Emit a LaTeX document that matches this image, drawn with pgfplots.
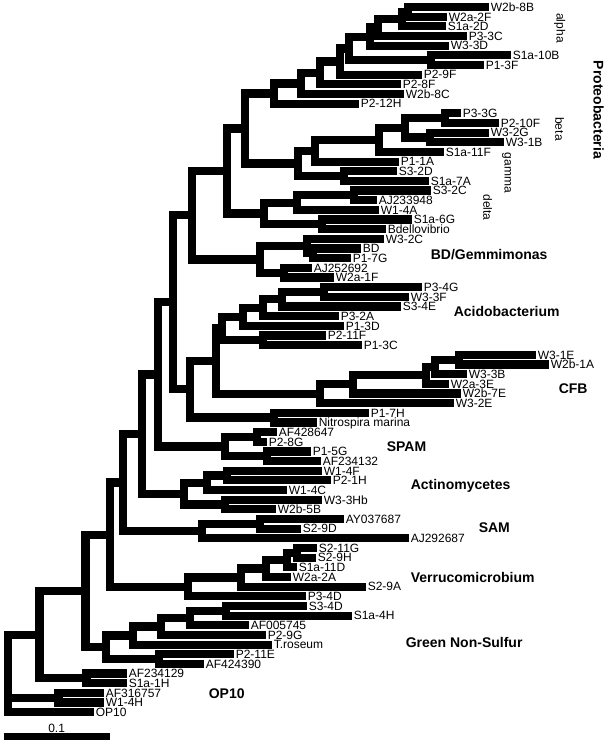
\documentclass[border=0pt]{standalone}
\usepackage{pgfplots}
\pgfplotsset{compat=1.18}
\usepackage{fontspec}
\setmainfont{Liberation Sans}
\tikzset{br/.style={black, line width=8.2pt, line join=miter, line cap=butt, mark=none},
  lf/.style={anchor=base west, inner sep=0pt, yshift=-4.3pt, font=\fontsize{12}{12}\selectfont},
  cl/.style={anchor=base west, inner sep=0pt, font=\fontsize{14}{14}\selectfont\bfseries},
  gk/.style={anchor=center, inner sep=0pt, rotate=-90, font=\fontsize{12}{12}\selectfont}}
\newcommand{\lb}[3]{\node[lf] at (axis cs:#1,#2) {#3};}
\begin{document}
\begin{tikzpicture}
\begin{axis}[width=603pt, height=740pt, scale only axis, xmin=0, xmax=603, ymin=0, ymax=740,
  y dir=reverse, axis lines=none, clip=false]
\path (axis cs:0,0) rectangle (axis cs:603,740);
% alpha
\addplot[br] coordinates {(485,7.0) (404,7.0) (404,16.7) (443,16.7)};
\addplot[br] coordinates {(404,11.85) (398,11.85) (398,26.3) (442,26.3)};
\addplot[br] coordinates {(398,19.1) (374,19.1) (374,36.0) (463,36.0)};
\addplot[br] coordinates {(374,27.55) (366,27.55) (366,45.6) (445,45.6)};
\addplot[br] coordinates {(507,55.3) (427,55.3) (427,65.0) (480,65.0)};
\addplot[br] coordinates {(366,36.6) (345,36.6) (345,60.15) (427,60.15)};
\addplot[br] coordinates {(345,48.4) (336,48.4) (336,74.6) (418,74.6)};
\addplot[br] coordinates {(336,61.5) (316,61.5) (316,84.3) (397,84.3)};
\addplot[br] coordinates {(316,72.9) (297,72.9) (297,93.9) (400,93.9)};
\addplot[br] coordinates {(297,83.4) (270,83.4) (270,103.6) (355,103.6)};
% beta gamma
\addplot[br] coordinates {(457,113.3) (441,113.3) (441,122.9) (495,122.9)};
\addplot[br] coordinates {(485,132.6) (426,132.6) (426,142.2) (500,142.2)};
\addplot[br] coordinates {(441,118.1) (401,118.1) (401,137.4) (426,137.4)};
\addplot[br] coordinates {(401,127.75) (375,127.75) (375,151.9) (440,151.9)};
\addplot[br] coordinates {(375,139.8) (311,139.8) (311,161.6) (395,161.6)};
\addplot[br] coordinates {(393,171.2) (340,171.2) (340,180.9) (425,180.9)};
\addplot[br] coordinates {(311,150.7) (294,150.7) (294,176.05) (340,176.05)};
% delta
\addplot[br] coordinates {(427,190.5) (350,190.5) (350,200.2) (373,200.2)};
\addplot[br] coordinates {(350,195.35) (293,195.35) (293,209.9) (375,209.9)};
\addplot[br] coordinates {(408,219.5) (318,219.5) (318,229.2) (382,229.2)};
\addplot[br] coordinates {(293,202.6) (260,202.6) (260,224.35) (318,224.35)};
\addplot[br] coordinates {(270,93.5) (241,93.5) (241,163.4) (294,163.4)};
\addplot[br] coordinates {(241,128.45) (223,128.45) (223,213.5) (260,213.5)};
% BD
\addplot[br] coordinates {(357,248.5) (309,248.5) (309,258.2) (347,258.2)};
\addplot[br] coordinates {(380,238.8) (303,238.8) (303,253.35) (309,253.35)};
\addplot[br] coordinates {(308,267.8) (280,267.8) (280,277.5) (330,277.5)};
\addplot[br] coordinates {(303,246.1) (256,246.1) (256,272.65) (280,272.65)};
\addplot[br] coordinates {(223,170.95) (188,170.95) (188,259.4) (256,259.4)};
% Acido
\addplot[br] coordinates {(418,287.1) (320,287.1) (320,296.8) (405,296.8)};
\addplot[br] coordinates {(320,291.95) (278,291.95) (278,306.5) (397,306.5)};
\addplot[br] coordinates {(278,299.2) (259,299.2) (259,316.1) (335,316.1)};
\addplot[br] coordinates {(259,307.65) (239,307.65) (239,325.8) (340,325.8)};
\addplot[br] coordinates {(322,335.4) (259,335.4) (259,345.1) (358,345.1)};
\addplot[br] coordinates {(239,316.7) (218,316.7) (218,340.25) (259,340.25)};
% CFB
\addplot[br] coordinates {(532,354.8) (455,354.8) (455,364.4) (545,364.4)};
\addplot[br] coordinates {(455,359.6) (431,359.6) (431,374.1) (463,374.1)};
\addplot[br] coordinates {(431,366.85) (422,366.85) (422,383.7) (445,383.7)};
\addplot[br] coordinates {(422,375.3) (349,375.3) (349,393.4) (457,393.4)};
\addplot[br] coordinates {(349,384.35) (316,384.35) (316,403.1) (450,403.1)};
% Nitrospira and joins
\addplot[br] coordinates {(365,412.7) (270,412.7) (270,422.4) (313,422.4)};
\addplot[br] coordinates {(218,328.5) (212,328.5) (212,393.7) (316,393.7)};
\addplot[br] coordinates {(212,361.1) (186,361.1) (186,417.55) (270,417.55)};
\addplot[br] coordinates {(188,215.2) (169,215.2) (169,389.3) (186,389.3)};
% SPAM
\addplot[br] coordinates {(273,432.0) (253,432.0) (253,441.7) (263,441.7)};
\addplot[br] coordinates {(307,451.4) (263,451.4) (263,461.0) (317,461.0)};
\addplot[br] coordinates {(253,436.85) (221,436.85) (221,456.2) (263,456.2)};
\addplot[br] coordinates {(169,302.25) (154,302.25) (154,446.5) (221,446.5)};
% Actino
\addplot[br] coordinates {(318,470.7) (223,470.7) (223,480.3) (327,480.3)};
\addplot[br] coordinates {(223,475.5) (203,475.5) (203,490.0) (283,490.0)};
\addplot[br] coordinates {(318,499.7) (221,499.7) (221,509.3) (272,509.3)};
\addplot[br] coordinates {(203,482.75) (180,482.75) (180,504.5) (221,504.5)};
\addplot[br] coordinates {(154,374.4) (138,374.4) (138,493.6) (180,493.6)};
% SAM
\addplot[br] coordinates {(340,519.0) (256,519.0) (256,528.6) (297,528.6)};
\addplot[br] coordinates {(256,523.8) (198,523.8) (198,538.3) (405,538.3)};
\addplot[br] coordinates {(138,434.0) (119,434.0) (119,531.05) (198,531.05)};
% Verruco
\addplot[br] coordinates {(313,548.0) (293,548.0) (293,557.6) (312,557.6)};
\addplot[br] coordinates {(293,552.8) (283,552.8) (283,567.3) (293,567.3)};
\addplot[br] coordinates {(283,560.05) (262,560.05) (262,576.9) (287,576.9)};
\addplot[br] coordinates {(262,568.5) (237,568.5) (237,586.6) (362,586.6)};
\addplot[br] coordinates {(237,577.55) (184,577.55) (184,596.3) (302,596.3)};
\addplot[br] coordinates {(119,482.5) (106,482.5) (106,586.9) (184,586.9)};
% GNS
\addplot[br] coordinates {(303,605.9) (222,605.9) (222,615.6) (348,615.6)};
\addplot[br] coordinates {(222,610.75) (186,610.75) (186,625.2) (245,625.2)};
\addplot[br] coordinates {(186,617.95) (157,617.95) (157,634.9) (262,634.9)};
\addplot[br] coordinates {(157,626.4) (129,626.4) (129,644.6) (268,644.6)};
\addplot[br] coordinates {(230,654.2) (155,654.2) (155,663.9) (200,663.9)};
\addplot[br] coordinates {(129,635.5) (102,635.5) (102,659.05) (155,659.05)};
\addplot[br] coordinates {(106,534.7) (82,534.7) (82,647.3) (102,647.3)};
% OP10
\addplot[br] coordinates {(123,673.5) (83,673.5) (83,683.2) (123,683.2)};
\addplot[br] coordinates {(82,591.0) (36,591.0) (36,678.35) (83,678.35)};
\addplot[br] coordinates {(100,692.9) (55,692.9) (55,702.5) (100,702.5)};
\addplot[br] coordinates {(36,634.7) (4.1,634.7) (4.1,712.2) (90,712.2)};
\addplot[br] coordinates {(4.1,697.7) (55,697.7)};
% scale bar
\addplot[br, line width=7.2pt] coordinates {(0,736.4) (106,736.4)};
\node[anchor=base, inner sep=0pt, font=\fontsize{12}{12}\selectfont] at (axis cs:53,732.5) {0.1};
% leaf labels
\lb{487}{7.0}{W2b-8B}
\lb{445}{16.7}{W2a-2F}
\lb{444}{26.3}{S1a-2D}
\lb{465}{36.0}{P3-3C}
\lb{447}{45.6}{W3-3D}
\lb{509}{55.3}{S1a-10B}
\lb{482}{65.0}{P1-3F}
\lb{420}{74.6}{P2-9F}
\lb{399}{84.3}{P2-8F}
\lb{402}{93.9}{W2b-8C}
\lb{357}{103.6}{P2-12H}
\lb{459}{113.3}{P3-3G}
\lb{497}{122.9}{P2-10F}
\lb{487}{132.6}{W3-2G}
\lb{502}{142.2}{W3-1B}
\lb{442}{151.9}{S1a-11F}
\lb{397}{161.6}{P1-1A}
\lb{395}{171.2}{S3-2D}
\lb{427}{180.9}{S1a-7A}
\lb{429}{190.5}{S3-2C}
\lb{375}{200.2}{AJ233948}
\lb{377}{209.9}{W1-4A}
\lb{410}{219.5}{S1a-6G}
\lb{384}{229.2}{Bdellovibrio}
\lb{382}{238.8}{W3-2C}
\lb{359}{248.5}{BD}
\lb{349}{258.2}{P1-7G}
\lb{310}{267.8}{AJ252692}
\lb{332}{277.5}{W2a-1F}
\lb{420}{287.1}{P3-4G}
\lb{407}{296.8}{W3-3F}
\lb{399}{306.5}{S3-4E}
\lb{337}{316.1}{P3-2A}
\lb{342}{325.8}{P1-3D}
\lb{324}{335.4}{P2-11F}
\lb{360}{345.1}{P1-3C}
\lb{534}{354.8}{W3-1E}
\lb{547}{364.4}{W2b-1A}
\lb{465}{374.1}{W3-3B}
\lb{447}{383.7}{W2a-3E}
\lb{459}{393.4}{W2b-7E}
\lb{452}{403.1}{W3-2E}
\lb{367}{412.7}{P1-7H}
\lb{315}{422.4}{Nitrospira marina}
\lb{275}{432.0}{AF428647}
\lb{265}{441.7}{P2-8G}
\lb{309}{451.4}{P1-5G}
\lb{319}{461.0}{AF234132}
\lb{320}{470.7}{W1-4F}
\lb{329}{480.3}{P2-1H}
\lb{285}{490.0}{W1-4C}
\lb{320}{499.7}{W3-3Hb}
\lb{274}{509.3}{W2b-5B}
\lb{342}{519.0}{AY037687}
\lb{299}{528.6}{S2-9D}
\lb{407}{538.3}{AJ292687}
\lb{315}{548.0}{S2-11G}
\lb{314}{557.6}{S2-9H}
\lb{295}{567.3}{S1a-11D}
\lb{289}{576.9}{W2a-2A}
\lb{364}{586.6}{S2-9A}
\lb{304}{596.3}{P3-4D}
\lb{305}{605.9}{S3-4D}
\lb{350}{615.6}{S1a-4H}
\lb{247}{625.2}{AF005745}
\lb{264}{634.9}{P2-9G}
\lb{270}{644.6}{T.roseum}
\lb{232}{654.2}{P2-11E}
\lb{202}{663.9}{AF424390}
\lb{125}{673.5}{AF234129}
\lb{125}{683.2}{S1a-1H}
\lb{102}{692.9}{AF316757}
\lb{102}{702.5}{W1-4H}
\lb{92}{712.2}{OP10}
% clade labels
\node[anchor=center, inner sep=0pt, rotate=-90, font=\fontsize{14}{14}\selectfont\bfseries] at (axis cs:595,110) {Proteobacteria};
\node[gk] at (axis cs:556,28) {alpha};
\node[gk] at (axis cs:556,129) {beta};
\node[gk] at (axis cs:503,173) {gamma};
\node[gk] at (axis cs:484,207.5) {delta};
\node[cl] at (axis cs:427,259) {BD/Gemmimonas};
\node[cl] at (axis cs:450,316) {Acidobacterium};
\node[cl] at (axis cs:555,393) {CFB};
\node[cl] at (axis cs:383,451) {SPAM};
\node[cl] at (axis cs:407,489) {Actinomycetes};
\node[cl] at (axis cs:475,532) {SAM};
\node[cl] at (axis cs:407,582) {Verrucomicrobium};
\node[cl] at (axis cs:402,647) {Green Non-Sulfur};
\node[cl] at (axis cs:205,698) {OP10};
\end{axis}
\end{tikzpicture}
\end{document}
